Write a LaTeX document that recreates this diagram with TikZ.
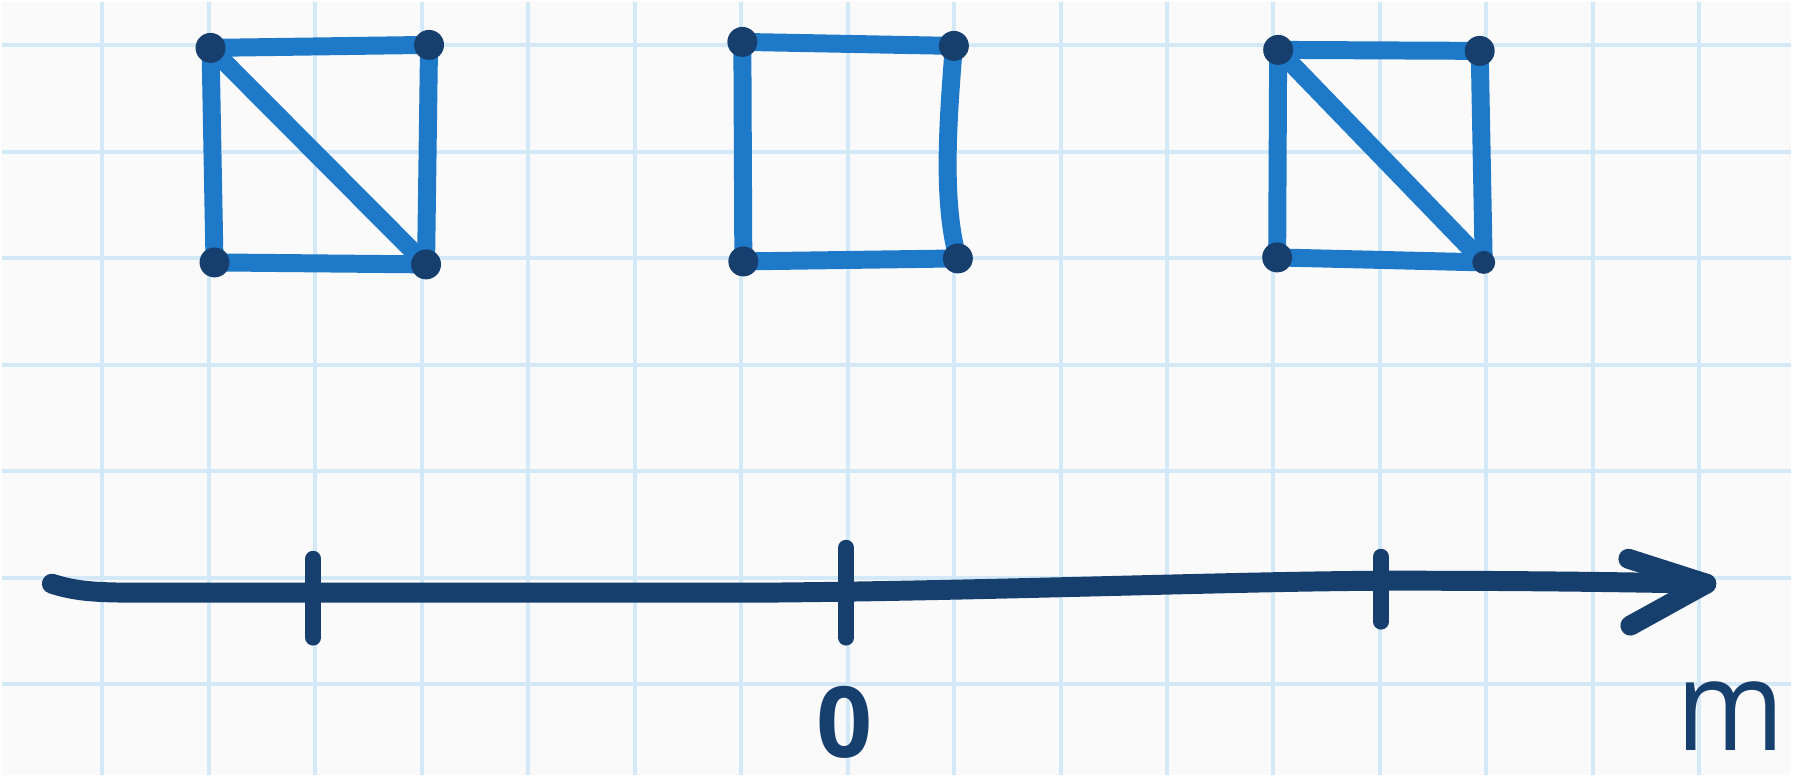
\documentclass[tikz,border=0pt]{standalone}
\usepackage{fontspec}
\newfontfamily\handfont{Open Sans}
\pgfdeclarelayer{gridlayer}
\pgfdeclarelayer{edgelayer}
\pgfsetlayers{gridlayer,edgelayer,main}
\definecolor{paper}{HTML}{FAFAFA}
\definecolor{gridblue}{HTML}{D3E9F7}
\definecolor{edgeblue}{HTML}{1F79C9}
\definecolor{navy}{HTML}{173F6E}
\tikzset{
  vdot/.style={circle, fill=navy, inner sep=0pt, minimum size=0.30cm},
  vdotsmall/.style={circle, fill=navy, inner sep=0pt, minimum size=0.23cm},
  edge/.style={draw=edgeblue, line width=0.18cm, line cap=round, line join=round},
  axisline/.style={draw=navy, line width=0.2cm, line cap=round, line join=round},
  tickline/.style={draw=navy, line width=0.16cm, line cap=round},
  gridline/.style={draw=gridblue, line width=0.04cm},
  lblzero/.style={text=navy, font=\handfont\bfseries\fontsize{28}{30}\selectfont, inner sep=0pt},
  lblm/.style={text=navy, font=\handfont\fontsize{36}{38}\selectfont, inner sep=0pt, xscale=0.92}
}
\begin{document}
\begin{tikzpicture}[x=0.01cm, y=-0.01cm]
\begin{pgfonlayer}{gridlayer}
\fill[paper] (0,0) rectangle (1793,775);
\foreach \k in {0,...,15} {\draw[gridline] ({100.6+106.7*\k},0) -- ({100.6+106.7*\k},775);}
\foreach \k in {0,...,6} {\draw[gridline] (0,{43.5+106.7*\k}) -- (1793,{43.5+106.7*\k});}
\end{pgfonlayer}
\path[use as bounding box] (0,0) rectangle (1793,775);

% square 1
\node[vdot] (a1) at (209,46) {};
\node[vdot] (b1) at (428,43) {};
\node[vdot] (c1) at (213,261) {};
\node[vdot] (d1) at (425,263) {};
% square 2
\node[vdot] (a2) at (742,40) {};
\node[vdot] (b2) at (954,44) {};
\node[vdot] (c2) at (743,260) {};
\node[vdot] (d2) at (958,257) {};
% square 3
\node[vdot] (a3) at (1279,48) {};
\node[vdot] (b3) at (1481,49) {};
\node[vdot] (c3) at (1278,256) {};
\node[vdotsmall] (d3) at (1485,261) {};

\begin{pgfonlayer}{edgelayer}
\draw[edge] (a1.center) -- (b1.center) -- (d1.center) -- (c1.center) -- cycle;
\draw[edge] (a1.center) -- (d1.center);
\draw[edge] (a2.center) -- (b2.center) .. controls (948,120) and (942,200) .. (d2.center) -- (c2.center) -- cycle;
\draw[edge] (a3.center) -- (b3.center) -- (d3.center) -- (c3.center) -- cycle;
\draw[edge] (a3.center) -- (d3.center);
\end{pgfonlayer}

% axis
\coordinate (axL) at (50,583);
\coordinate (axR) at (1708,583);
\draw[axisline] (axL) .. controls (75,591) and (95,592) .. (140,592)
  -- (760,592) .. controls (1000,590) and (1250,580) .. (1400,580)
  .. controls (1550,580) and (1650,582) .. (axR);
\draw[axisline] (axR) -- ++(-78,-25);
\draw[axisline] (axR) -- ++(-76,42);
% ticks
\draw[tickline] (312,558) -- (312,637);
\draw[tickline] (846,547) -- (846,637);
\draw[tickline] (1382,556) -- (1382,621);
% labels
\node[lblzero] (zero) at (844,722) {0};
\node[lblm] (emm) at (1732,716) {m};
\end{tikzpicture}
\end{document}
